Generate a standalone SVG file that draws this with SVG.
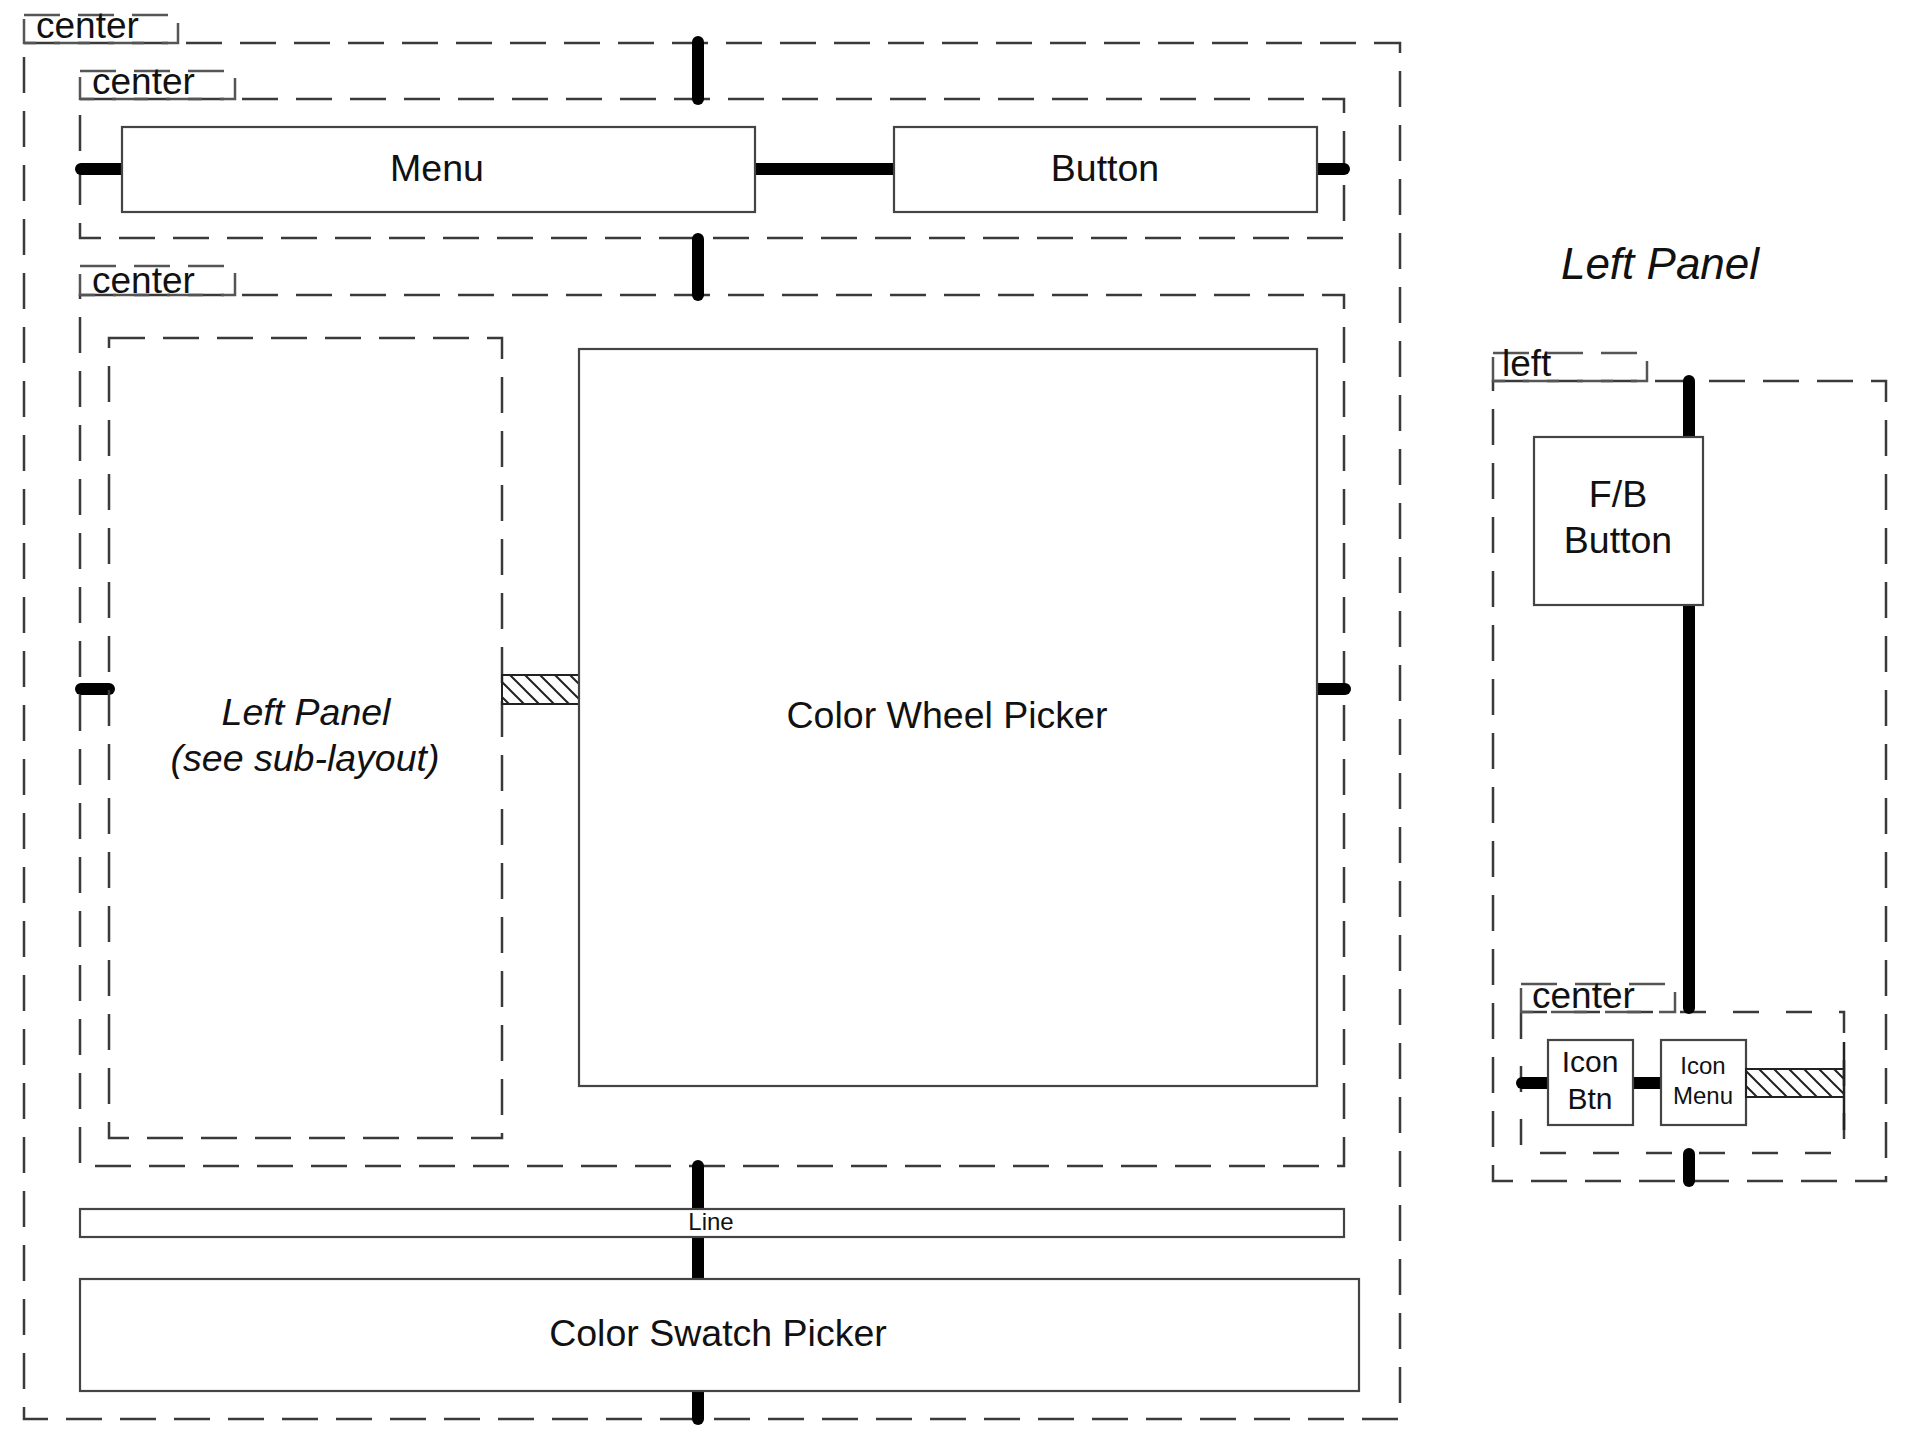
<svg xmlns="http://www.w3.org/2000/svg" width="1918" height="1450" viewBox="0 0 1918 1450">
<style>
  .cont { fill: none; stroke: #3a3a3a; stroke-width: 2.5; stroke-dasharray: 36 18; }
  .small { stroke-dasharray: 26 27; }
  .tab { fill: none; stroke: #555; stroke-width: 2.5; stroke-dasharray: 36 18; }
  .box { fill: #fff; stroke: #444; stroke-width: 2.2; }
  .lbl { font-family: "Liberation Sans", Arial, sans-serif; font-size: 37px; fill: #111; }
  .t { font-family: "Liberation Sans", Arial, sans-serif; font-size: 37.5px; fill: #111; text-anchor: middle; }
  .it { font-style: italic; }
  .con { stroke: #000; stroke-width: 12; stroke-linecap: round; fill: none; }
  .hatch { fill: url(#hatch); stroke: #222; stroke-width: 2; }
</style>
<defs>
  <pattern id="hatch" patternUnits="userSpaceOnUse" width="15" height="15">
    <path d="M0,0 L15,15 M-2,13 L2,17 M13,-2 L17,2" stroke="#222" stroke-width="2"/>
  </pattern>
</defs>
<rect width="1918" height="1450" fill="#fff"/>

<!-- containers -->
<g id="outer-center">
  <rect class="cont" x="24" y="43" width="1376" height="1376"/>
  <rect class="tab" x="24" y="15" width="154" height="28"/>
  <text class="lbl" x="36" y="38">center</text>
</g>
<g id="top-center">
  <rect class="cont" x="80" y="99" width="1264" height="139"/>
  <rect class="tab" x="80" y="71" width="155" height="28"/>
  <text class="lbl" x="92" y="94">center</text>
</g>
<g id="mid-center">
  <rect class="cont" x="80" y="295" width="1264" height="871"/>
  <rect class="tab" x="80" y="266" width="155" height="29"/>
  <text class="lbl" x="92" y="293">center</text>
</g>
<g id="left-container">
  <rect class="cont" x="1493" y="381" width="393" height="800"/>
  <rect class="tab" x="1493" y="353" width="154" height="28"/>
  <text class="lbl" x="1502" y="376">left</text>
</g>
<g id="inner-center">
  <rect class="cont small" x="1521" y="1012" width="323" height="141"/>
  <rect class="tab small" x="1521" y="984" width="154" height="28"/>
  <text class="lbl" x="1532" y="1008">center</text>
</g>

<!-- connectors -->
<g id="connectors">
  <line class="con" x1="698" y1="42" x2="698" y2="99"/>
  <line class="con" x1="81" y1="169" x2="122" y2="169"/>
  <line class="con" x1="755" y1="169" x2="894" y2="169"/>
  <line class="con" x1="1317" y1="169" x2="1344" y2="169"/>
  <line class="con" x1="698" y1="239" x2="698" y2="295"/>
  <line class="con" x1="81" y1="689" x2="109" y2="689"/>
  <line class="con" x1="1317" y1="689" x2="1345" y2="689"/>
  <line class="con" x1="698" y1="1166" x2="698" y2="1279"/>
  <line class="con" x1="698" y1="1391" x2="698" y2="1419"/>
  <line class="con" x1="1689" y1="381" x2="1689" y2="1008"/>
  <line class="con" x1="1689" y1="1154" x2="1689" y2="1181"/>
  <line class="con" x1="1522" y1="1083" x2="1548" y2="1083"/>
  <line class="con" x1="1633" y1="1083" x2="1661" y2="1083"/>
</g>

<!-- nodes -->
<g id="menu">
  <rect class="box" x="122" y="127" width="633" height="85"/>
  <text class="t" x="437" y="181">Menu</text>
</g>
<g id="button">
  <rect class="box" x="894" y="127" width="423" height="85"/>
  <text class="t" x="1105" y="181">Button</text>
</g>
<g id="left-panel">
  <rect class="cont" x="109" y="338" width="393" height="800"/>
  <text class="t it" x="306" y="725">Left Panel</text>
  <text class="t it" x="305" y="771">(see sub-layout)</text>
</g>
<g id="spacer-main">
  <rect class="hatch" x="502" y="675" width="77" height="29"/>
</g>
<g id="color-wheel">
  <rect class="box" x="579" y="349" width="738" height="737"/>
  <text class="t" x="947" y="728">Color Wheel Picker</text>
</g>
<g id="line">
  <rect class="box" x="80" y="1209" width="1264" height="28" stroke="#555" stroke-width="2.5"/>
  <text class="t" x="711" y="1230" style="font-size:24px">Line</text>
</g>
<g id="color-swatch">
  <rect class="box" x="80" y="1279" width="1279" height="112"/>
  <text class="t" x="718" y="1346">Color Swatch Picker</text>
</g>
<g id="title">
  <text class="t it" x="1660" y="279" style="font-size:44px">Left Panel</text>
</g>
<g id="fb-button">
  <rect class="box" x="1534" y="437" width="169" height="168"/>
  <text class="t" x="1618" y="507">F/B</text>
  <text class="t" x="1618" y="553">Button</text>
</g>
<g id="icon-btn">
  <rect class="box" x="1548" y="1040" width="85" height="85"/>
  <text class="t" x="1590" y="1072" style="font-size:30px">Icon</text>
  <text class="t" x="1590" y="1109" style="font-size:30px">Btn</text>
</g>
<g id="icon-menu">
  <rect class="box" x="1661" y="1040" width="85" height="85"/>
  <text class="t" x="1703" y="1074" style="font-size:24px">Icon</text>
  <text class="t" x="1703" y="1104" style="font-size:24px">Menu</text>
</g>
<g id="spacer-small">
  <rect class="hatch" x="1746" y="1069" width="98" height="28"/>
  <line x1="1844" y1="1042" x2="1844" y2="1130" stroke="#222" stroke-width="2.5"/>
</g>
</svg>
